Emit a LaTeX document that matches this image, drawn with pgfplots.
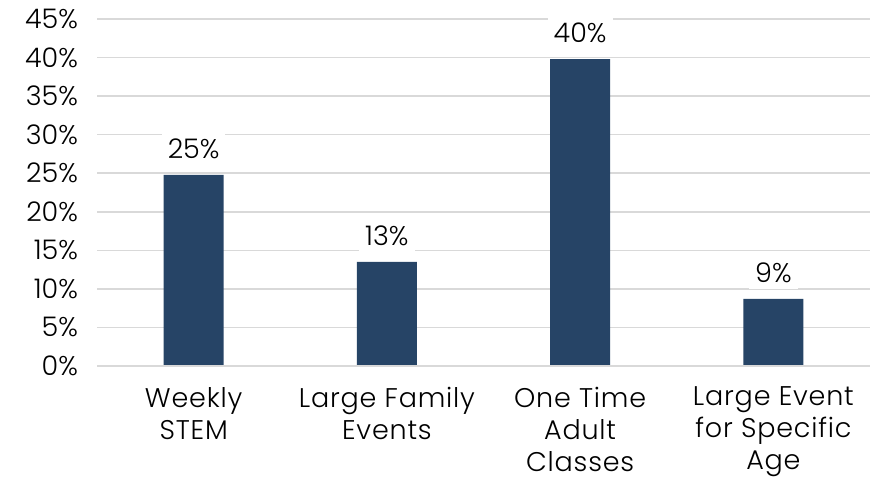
\documentclass[border=0pt]{standalone}
\usepackage{fontspec}
\setmainfont{Poppins}[UprightFont=* Light]
\usepackage{pgfplots}
\pgfplotsset{compat=1.18}
\definecolor{barblue}{HTML}{264466}
\definecolor{gridgray}{HTML}{D9D9D9}
\begin{document}
\begin{tikzpicture}
\useasboundingbox (0,0) rectangle (435.5pt,240.5pt);
\begin{axis}[
  at={(48.5pt,57.5pt)}, anchor=south west,
  scale only axis, width=386.5pt, height=173.5pt,
  xmin=-0.5, xmax=3.5, ymin=0, ymax=45,
  ytick={0,5,...,45},
  yticklabel={\pgfmathprintnumber{\tick}\%},
  /pgf/number format/assume math mode=true,
  xtick={0,1,2,3},
  xticklabels={{Weekly\\STEM},{Large Family\\Events},{One Time\\Adult\\Classes},{Large Event\\for Specific\\Age}},
  xticklabel style={align=center, font=\addfontfeatures{LetterSpace=3}\fontsize{13.5}{16}\selectfont, yshift=-7pt},
  yticklabel style={font=\fontsize{13.5}{15.5}\selectfont, xshift=-6pt},
  major tick length=0pt,
  axis line style={draw=none},
  ymajorgrids, grid style={gridgray, line width=0.75pt},
  axis on top=false,
]
\addplot[ybar, bar width=30pt, fill=barblue, draw=none,
  nodes near coords={\pgfmathprintnumber[fixed,precision=0]{\pgfplotspointmeta}\%},
  point meta=explicit symbolic,
  nodes near coords style={fill=white, inner sep=3pt, font=\fontsize{13.5}{15.5}\selectfont, yshift=5pt, anchor=south}]
  coordinates {(0,24.8)[25] (1,13.5)[13] (2,39.8)[40] (3,8.7)[9]};
\draw[gridgray, line width=0.75pt] (axis cs:-0.5,0) -- (axis cs:3.5,0);
\end{axis}
\end{tikzpicture}
\end{document}
